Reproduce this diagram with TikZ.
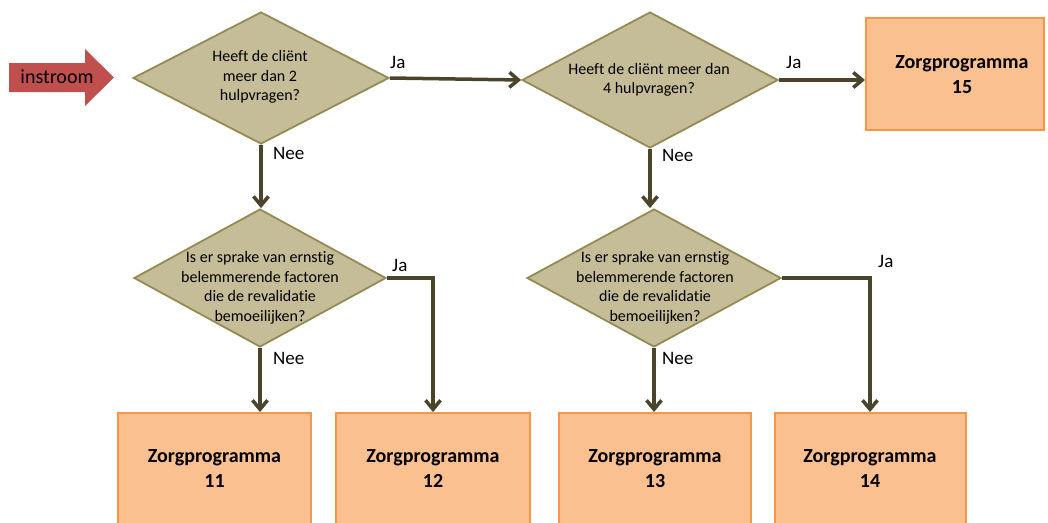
\documentclass[tikz,border=0pt]{standalone}
\usepackage{fontspec}
\setmainfont{Carlito}[Ligatures=NoCommon]
\usetikzlibrary{shapes.geometric,arrows.meta}
\definecolor{diafill}{HTML}{C4BD97}
\definecolor{diadraw}{HTML}{948A54}
\definecolor{conn}{HTML}{4A452A}
\definecolor{boxfill}{HTML}{FAC090}
\definecolor{boxdraw}{HTML}{F79646}
\definecolor{inred}{HTML}{C0504D}
\begin{document}
\begin{tikzpicture}[x=1pt,y=-1pt,
  dia/.style={diamond, fill=diafill, draw=diadraw, line width=1.8pt, inner sep=0pt, minimum width=256pt, minimum height=132pt},
  diatext/.style={align=center, inner sep=0pt, font=\fontsize{16}{19.5}\selectfont},
  zbox/.style={rectangle, fill=boxfill, draw=boxdraw, line width=2pt, minimum height=112pt, inner sep=0pt, align=center, font=\bfseries\fontsize{20}{25}\selectfont},
  boxtext/.style={align=center, inner sep=0pt, font=\bfseries\fontsize{20}{25}\selectfont},
  lbl/.style={anchor=west, inner sep=0pt, font=\fontsize{19}{23}\selectfont},
  conline/.style={draw=conn, line width=3.5pt},
  conarrow/.style={conline, -{Straight Barb[length=9pt,width=15pt]}}
]
\useasboundingbox (0,0) rectangle (1048,522);
\clip (0,0) rectangle (1048,522);

% instroom arrow
\fill[inred] (9,63) -- (85,63) -- (85,49) -- (114,77.5) -- (85,106) -- (85,92) -- (9,92) -- cycle;
\node[font=\fontsize{20}{24}\selectfont, inner sep=0pt] (instroom) at (57,77) {instroom};

% diamonds
\node[dia] (d1) at (261,78) {};
\node[dia, minimum height=136pt] (d2) at (650,80) {};
\node[dia, minimum width=252pt, minimum height=138pt] (d3) at (260,278) {};
\node[dia, minimum width=254pt, minimum height=138pt] (d4) at (654,278) {};

\node[diatext] (t1) at (260,77) {Heeft de cliënt\\meer dan 2\\hulpvragen?};
\node[diatext] (t2) at (649,80) {Heeft de cliënt meer dan\\4 hulpvragen?};
\node[diatext] (t3) at (260,288) {Is er sprake van ernstig\\belemmerende factoren\\die de revalidatie\\bemoeilijken?};
\node[diatext] (t4) at (655,288) {Is er sprake van ernstig\\belemmerende factoren\\die de revalidatie\\bemoeilijken?};

% boxes
\node[zbox, minimum width=178pt] (z15) at (955,74) {};
\node[boxtext] (t15) at (962,75) {Zorgprogramma\\15};
\node[zbox, minimum width=193pt] (z11) at (214.5,469) {Zorgprogramma\\11};
\node[zbox, minimum width=194pt] (z12) at (433,469) {Zorgprogramma\\12};
\node[zbox, minimum width=192pt] (z13) at (655,469) {Zorgprogramma\\13};
\node[zbox, minimum width=191pt] (z14) at (870,469) {Zorgprogramma\\14};

% connectors
\draw[conarrow] (d1.east) -- (d2.west);
\draw[conarrow] (d2.east) -- (d2.east -| z15.west);
\draw[conarrow] (d1.south) -- (d1.south |- d3.north);
\draw[conarrow] (d2.south) -- (d2.south |- d4.north);
\draw[conarrow] (d3.south) -- (d3.south |- z11.north);
\draw[conarrow] (d4.south) -- (d4.south |- z13.north);
\draw[conarrow] (d3.east) -| (z12.north);
\draw[conarrow] (d4.east) -| (z14.north);

% labels
\node[lbl] (ja1) at (390,62) {Ja};
\node[lbl] (ja2) at (786,62) {Ja};
\node[lbl] (ja3) at (392,265) {Ja};
\node[lbl] (ja4) at (878,261) {Ja};
\node[lbl] (nee1) at (273,153) {Nee};
\node[lbl] (nee2) at (662,155) {Nee};
\node[lbl] (nee3) at (273,358) {Nee};
\node[lbl] (nee4) at (662,358) {Nee};
\end{tikzpicture}
\end{document}
